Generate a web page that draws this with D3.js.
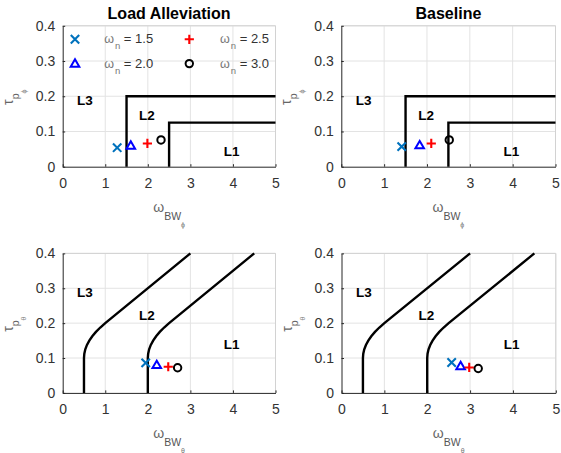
<!DOCTYPE html>
<html>
<head>
<meta charset="utf-8">
<script src="https://cdn.jsdelivr.net/npm/d3@7"></script>
<style>
  html, body { margin: 0; padding: 0; background: #fff; }
  svg { display: block; font-family: Arial, "Liberation Sans", Helvetica, sans-serif; }
</style>
</head>
<body>
<svg id="chart" width="561" height="453"></svg>
<script>
// ---------------- data ----------------
const xTicks = [0, 1, 2, 3, 4, 5];
const yTicks = [0, 0.1, 0.2, 0.3, 0.4];
const panelTitles = ["Load Alleviation", "Baseline", "", ""];
const axisSub = ["\u03D5", "\u03D5", "\u03B8", "\u03B8"]; // phi for roll, theta for pitch
const omegaN = ["1.5", "2.0", "2.5", "3.0"];
const markerTypes = ["x", "tri", "plus", "circle"];
const markerColors = ["#0072BD", "#0000FF", "#FF0000", "#000000"];

// roll (phi) points
const rollLA_x = [1.28, 1.60, 1.99, 2.31];
const rollLA_y = [0.054, 0.060, 0.066, 0.076];
const rollBL_x = [1.41, 1.83, 2.10, 2.52];
const rollBL_y = [0.057, 0.061, 0.066, 0.076];
// pitch (theta) points
const pitchLA_x = [1.95, 2.21, 2.48, 2.70];
const pitchLA_y = [0.086, 0.080, 0.075, 0.072];
const pitchBL_x = [2.57, 2.78, 2.98, 3.19];
const pitchBL_y = [0.087, 0.077, 0.073, 0.070];

// level boundaries
const rollL2_x = [1.5, 1.5, 5];
const rollL2_y = [0, 0.2, 0.2];
const rollL1_x = [2.5, 2.5, 5];
const rollL1_y = [0, 0.125, 0.125];
const pitchL2_x = [0.5, 0.5, 0.508, 0.531, 0.57, 0.625, 0.695, 0.781, 0.883, 1.0, 3.0];
const pitchL2_y = [0, 0.1, 0.1125, 0.125, 0.1375, 0.15, 0.1625, 0.175, 0.1875, 0.2, 0.4];
const pitchL1_x = [2.0, 2.0, 2.008, 2.031, 2.07, 2.125, 2.195, 2.281, 2.383, 2.5, 4.5];
const pitchL1_y = [0, 0.1, 0.1125, 0.125, 0.1375, 0.15, 0.1625, 0.175, 0.1875, 0.2, 0.4];

// region labels
const levelNames = ["L3", "L2", "L1"];
const rollLabel_x = [0.52, 1.98, 3.97];
const rollLabel_y = [0.19, 0.147, 0.043];
const pitchLabel_x = [0.52, 1.98, 3.97];
const pitchLabel_y = [0.29, 0.224, 0.141];

// ---------------- layout ----------------
const panels = [
  { x0: 62.7, x1: 275.5, y0: 166.7, y1: 25.8, px: rollLA_x, py: rollLA_y, bx: [rollL2_x, rollL1_x], by: [rollL2_y, rollL1_y], lx: rollLabel_x, ly: rollLabel_y, yl: "\u03C4", legend: true },
  { x0: 341.3, x1: 555.5, y0: 166.7, y1: 25.8, px: rollBL_x, py: rollBL_y, bx: [rollL2_x, rollL1_x], by: [rollL2_y, rollL1_y], lx: rollLabel_x, ly: rollLabel_y, yl: "\u03C4", legend: false },
  { x0: 62.7, x1: 275.5, y0: 392.9, y1: 253.4, px: pitchLA_x, py: pitchLA_y, bx: [pitchL2_x, pitchL1_x], by: [pitchL2_y, pitchL1_y], lx: pitchLabel_x, ly: pitchLabel_y, yl: "\u03C4", legend: false },
  { x0: 341.5, x1: 555.8, y0: 392.9, y1: 253.4, px: pitchBL_x, py: pitchBL_y, bx: [pitchL2_x, pitchL1_x], by: [pitchL2_y, pitchL1_y], lx: pitchLabel_x, ly: pitchLabel_y, yl: "\u03C4", legend: false }
];

const svg = d3.select("#chart");
const axisColor = "#262626";
const gridColor = "#e3e3e3";

function drawMarker(g, type, color, cx, cy) {
  const s = 4.2;
  if (type === "x") {
    g.append("path").attr("d", `M${cx - s},${cy - s}L${cx + s},${cy + s}M${cx - s},${cy + s}L${cx + s},${cy - s}`)
      .attr("stroke", color).attr("stroke-width", 2.1).attr("fill", "none");
  } else if (type === "plus") {
    const p = 4.6;
    g.append("path").attr("d", `M${cx - p},${cy}L${cx + p},${cy}M${cx},${cy - p}L${cx},${cy + p}`)
      .attr("stroke", color).attr("stroke-width", 2.1).attr("fill", "none");
  } else if (type === "tri") {
    const w = 4.3;
    g.append("path").attr("d", `M${cx},${cy - 4.3}L${cx + w},${cy + 3.1}L${cx - w},${cy + 3.1}Z`)
      .attr("stroke", color).attr("stroke-width", 2).attr("fill", "none").attr("stroke-linejoin", "miter");
  } else {
    g.append("circle").attr("cx", cx).attr("cy", cy).attr("r", 3.7)
      .attr("stroke", color).attr("stroke-width", 2).attr("fill", "none");
  }
}

panels.forEach((p, i) => {
  const x = d3.scaleLinear().domain([0, 5]).range([p.x0, p.x1]);
  const y = d3.scaleLinear().domain([0, 0.4]).range([p.y0, p.y1]);
  const g = svg.append("g");

  // grid
  g.selectAll(".gx").data(xTicks.slice(1)).join("line")
    .attr("x1", d => x(d)).attr("x2", d => x(d)).attr("y1", p.y0).attr("y2", p.y1)
    .attr("stroke", gridColor).attr("stroke-width", 1);
  g.selectAll(".gy").data(yTicks.slice(1)).join("line")
    .attr("x1", p.x0).attr("x2", p.x1).attr("y1", d => y(d)).attr("y2", d => y(d))
    .attr("stroke", gridColor).attr("stroke-width", 1);
  // box top/right
  g.append("path").attr("d", `M${p.x0},${p.y1}L${p.x1},${p.y1}L${p.x1},${p.y0}`)
    .attr("stroke", "#d2d2d2").attr("fill", "none").attr("stroke-width", 1);

  // axes
  const ax = g.append("g").attr("transform", `translate(0,${p.y0})`)
    .call(d3.axisBottom(x).tickValues(xTicks).tickFormat(d3.format("d")).tickSizeInner(-2.5).tickSizeOuter(0).tickPadding(11.5));
  const ay = g.append("g").attr("transform", `translate(${p.x0},0)`)
    .call(d3.axisLeft(y).tickValues(yTicks).tickFormat(d => d === 0 ? "0" : d3.format(".1f")(d)).tickSizeInner(-2.5).tickSizeOuter(0).tickPadding(7.5));
  [ax, ay].forEach(a => {
    a.select(".domain").attr("stroke", axisColor).attr("stroke-width", 1);
    a.selectAll(".tick line").attr("stroke", axisColor);
    a.selectAll(".tick text").attr("fill", "#333").attr("font-size", 14)
      .attr("font-family", "Arial, 'Liberation Sans', sans-serif");
  });

  // boundaries
  const line = d3.line().x(d => x(d[0])).y(d => y(d[1]));
  p.bx.forEach((bx, k) => {
    const pts = bx.map((v, j) => [v, p.by[k][j]]);
    g.append("path").attr("d", line(pts)).attr("fill", "none")
      .attr("stroke", "#000").attr("stroke-width", 2.4).attr("stroke-linejoin", "miter");
  });

  // region labels
  levelNames.forEach((name, k) => {
    g.append("text").attr("x", x(p.lx[k])).attr("y", y(p.ly[k]))
      .attr("text-anchor", "middle").attr("dy", "0.36em")
      .attr("font-size", 13.5).attr("font-weight", "bold").attr("fill", "#000").text(name);
  });

  // data points
  markerTypes.forEach((t, k) => drawMarker(g, t, markerColors[k], x(p.px[k]), y(p.py[k])));

  // title
  if (panelTitles[i]) {
    g.append("text").attr("x", (p.x0 + p.x1) / 2).attr("y", 18.5).attr("text-anchor", "middle")
      .attr("font-size", 16).attr("font-weight", "bold").attr("fill", "#000").text(panelTitles[i]);
  }

  // x label
  const xl = g.append("text").attr("x", (p.x0 + p.x1) / 2).attr("y", p.y0 + 45).attr("text-anchor", "middle");
  xl.append("tspan").attr("font-size", 14).attr("fill", "#666").text("\u03C9");
  xl.append("tspan").attr("font-size", 10.5).attr("fill", "#555").attr("dy", 8).text("BW");
  xl.append("tspan").attr("font-size", 7).attr("fill", "#777").attr("dy", 7).text(axisSub[i]);

  // y label
  const yc = (p.y0 + p.y1) / 2 + 1;
  const yl = g.append("text").attr("transform", `translate(${p.x0 - 50},${yc}) rotate(-90)`).attr("text-anchor", "middle");
  yl.append("tspan").attr("font-size", 14).attr("fill", "#666").text(p.yl);
  yl.append("tspan").attr("font-size", 10.5).attr("fill", "#666").attr("dy", 6).text("p");
  yl.append("tspan").attr("font-size", 7).attr("fill", "#888").attr("dy", 7).text(axisSub[i]);

  // legend
  if (p.legend) {
    const rows = [p.y1 + 13.5, p.y1 + 37.8];
    const colM = [p.x0 + 12.3, p.x0 + 126.6];
    const colT = [p.x0 + 41.5, p.x0 + 157.3];
    omegaN.forEach((lab, k) => {
      const c = Math.floor(k / 2), r = k % 2;
      drawMarker(g, markerTypes[k], markerColors[k], colM[c], rows[r]);
      const t = g.append("text").attr("x", colT[c]).attr("y", rows[r] + 4);
      t.append("tspan").attr("font-size", 12.5).attr("fill", "#777").text("\u03C9");
      t.append("tspan").attr("font-size", 9.5).attr("fill", "#777").attr("dy", 6).attr("dx", 1).text("n");
      t.append("tspan").attr("font-size", 13).attr("fill", "#333").attr("dy", -6).text(" = " + lab);
    });
  }
});
</script>
</body>
</html>
